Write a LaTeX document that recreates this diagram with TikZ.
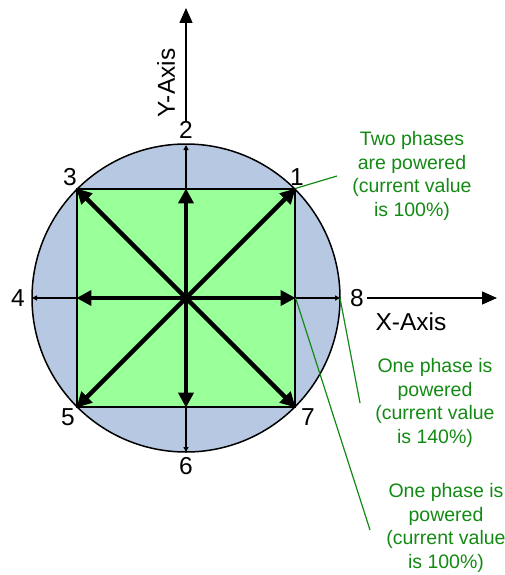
\documentclass[tikz,border=0pt]{standalone}
\usepackage{fontspec}
\setmainfont{Liberation Sans}
\usetikzlibrary{arrows.meta}
\definecolor{circblue}{HTML}{B7C9E2}
\definecolor{sqgreen}{HTML}{99FF99}
\definecolor{txtgreen}{HTML}{138A13}
\tikzset{
  x=1pt,y=-1pt,
  lbl/.style={font=\fontsize{24.5}{28}\selectfont, inner sep=0pt},
  gtxt/.style={font=\fontsize{19.5}{23.5}\selectfont, text=txtgreen, align=center, inner sep=0pt},
  thickarr/.style={line width=4.5pt, -{Triangle[width=15pt,length=15pt]}},
  thinarr/.style={line width=1.2pt, -{Triangle[width=5pt,length=5pt]}},
  axisarr/.style={line width=1.4pt, -{Triangle[width=13pt,length=15pt]}},
  gline/.style={draw=txtgreen, line width=1.2pt}
}
\begin{document}
\begin{tikzpicture}
\useasboundingbox (0,0) rectangle (505,575);
\coordinate (O) at (186,298);
% circle and square
\node[circle, draw=black, line width=1.5pt, fill=circblue, minimum size=308pt, inner sep=0pt] (circ) at (O) {};
\node[rectangle, draw=black, line width=1.2pt, fill=sqgreen, minimum size=218pt, inner sep=0pt] (sq) at (O) {};
% points on the circle
\coordinate (c2) at (186,145);
\coordinate (c4) at (32,298);
\coordinate (c6) at (186,452);
\coordinate (c8) at (340,298);
% thin arrows square edge -> circle
\draw[thinarr] (sq.north) -- (c2);
\draw[thinarr] (sq.west) -- (c4);
\draw[thinarr] (sq.south) -- (c6);
\draw[thinarr] (sq.east) -- (c8);
% thick arrows
\draw[thickarr] (O) -- (sq.north east);
\draw[thickarr] (O) -- (sq.north west);
\draw[thickarr] (O) -- (sq.south west);
\draw[thickarr] (O) -- (sq.south east);
\draw[thickarr] (O) -- (sq.north);
\draw[thickarr] (O) -- (sq.south);
\draw[thickarr] (O) -- (sq.west);
\draw[thickarr] (O) -- (sq.east);
% labels
\node[lbl] (l1) at (297,177) {1};
\node[lbl] (l2) at (186,130) {2};
\node[lbl] (l3) at (70,177) {3};
\node[lbl] (l4) at (18,298) {4};
\node[lbl] (l5) at (68,417) {5};
\node[lbl] (l6) at (186,466) {6};
\node[lbl] (l7) at (308,417) {7};
\node[lbl] (l8) at (357,298) {8};
% axes
\coordinate (ytip) at (186,8);
\coordinate (xtip) at (497,298);
\draw[axisarr] (l2.north) -- (ytip);
\draw[axisarr] (l8.east) ++(3,0) coordinate (xstart) -- (xtip);
\node[lbl, rotate=90] (yaxis) at (166,83) {Y-Axis};
\node[lbl] (xaxis) at (411,322) {X-Axis};
% green callouts
\node[gtxt] (t1) at (412,176) {Two phases\\are powered\\(current value\\is 100\%)};
\node[gtxt] (t2) at (435,403) {One phase is\\powered\\(current value\\is 140\%)};
\node[gtxt] (t3) at (446,528) {One phase is\\powered\\(current value\\is 100\%)};
\coordinate (e1) at (337,176);
\coordinate (e2) at (360,403);
\coordinate (e3) at (370,530);
\draw[gline] (sq.north east) -- (e1);
\draw[gline] (c8) -- (e2);
\draw[gline] (sq.east) -- (e3);
\end{tikzpicture}
\end{document}
